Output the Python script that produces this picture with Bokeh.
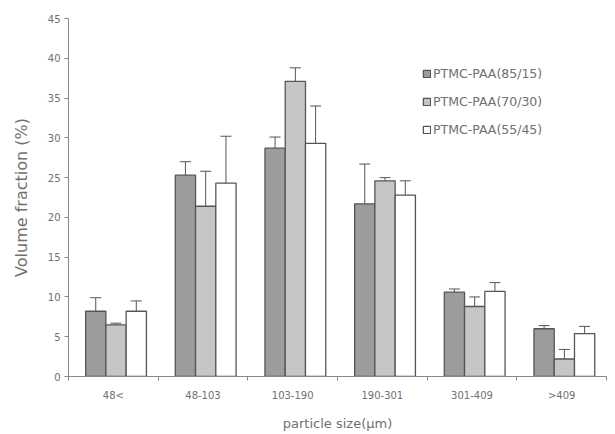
from bokeh.plotting import figure
from bokeh.models import (ColumnDataSource, FixedTicker, Whisker, TeeHead,
                          Legend, LegendItem, Range1d)
from bokeh.embed import file_html
from bokeh.resources import INLINE

categories = ["48<", "48-103", "103-190", "190-301", "301-409", ">409"]
series_names = ["PTMC-PAA(85/15)", "PTMC-PAA(70/30)", "PTMC-PAA(55/45)"]
v_85_15 = [8.2, 25.3, 28.7, 21.7, 10.6, 6.0]
e_85_15 = [1.7, 1.7, 1.4, 5.0, 0.4, 0.4]
v_70_30 = [6.5, 21.4, 37.1, 24.6, 8.8, 2.2]
e_70_30 = [0.2, 4.4, 1.7, 0.4, 1.2, 1.2]
v_55_45 = [8.2, 24.3, 29.3, 22.8, 10.7, 5.4]
e_55_45 = [1.3, 5.9, 4.7, 1.8, 1.1, 0.9]
y_ticks = [0, 5, 10, 15, 20, 25, 30, 35, 40, 45]

values = [v_85_15, v_70_30, v_55_45]
errors = [e_85_15, e_70_30, e_55_45]
fills = ["#9c9c9c", "#c6c6c6", "#ffffff"]

FONT = "DejaVu Sans"
TXT = "#707070"

p = figure(frame_width=538, frame_height=358, output_backend="svg",
           toolbar_location=None,
           x_range=Range1d(0, 6), y_range=Range1d(0, 45),
           min_border_left=68, min_border_right=1, min_border_top=18,
           min_border_bottom=54)
p.outline_line_color = None
p.xgrid.visible = False
p.ygrid.visible = False
p.background_fill_color = "white"

bw = 0.226
offsets = [-bw + 0.03, 0.03, bw + 0.03]
items = []
for k in range(3):
    xs = [i + 0.5 + offsets[k] for i in range(len(categories))]
    src = ColumnDataSource(dict(x=xs, top=values[k],
                                upper=[v + e for v, e in zip(values[k], errors[k])],
                                lower=[v - e for v, e in zip(values[k], errors[k])]))
    r = p.vbar(x="x", top="top", width=bw, bottom=0, source=src,
               fill_color=fills[k], line_color="#555555", line_width=1.3)
    items.append(LegendItem(label=series_names[k], renderers=[r]))
    w = Whisker(base="x", upper="upper", lower="lower", source=src,
                line_color="#555555", line_width=1,
                upper_head=TeeHead(size=11, line_color="#555555", line_width=1),
                lower_head=TeeHead(size=11, line_color="#555555", line_width=1))
    p.add_layout(w)

legend = Legend(items=items, location=(354, 237), margin=0, padding=4,
                label_height=20, glyph_height=9, glyph_width=9, spacing=8,
                label_standoff=2, border_line_color=None,
                background_fill_alpha=0,
                label_text_font=FONT, label_text_font_size="12.5px",
                label_text_color=TXT)
p.add_layout(legend, "center")

xt = FixedTicker(ticks=[i + 0.5 for i in range(len(categories))],
                 minor_ticks=list(range(len(categories) + 1)))
p.xaxis.ticker = xt
p.xaxis.major_label_overrides = {i + 0.5: c for i, c in enumerate(categories)}
p.xaxis.major_tick_in = 0
p.xaxis.major_tick_out = 0
p.xaxis.minor_tick_in = 0
p.xaxis.minor_tick_out = 4
p.xaxis.minor_tick_line_color = "#888888"
p.xaxis.axis_label = "particle size(\u03bcm)"

p.yaxis.ticker = FixedTicker(ticks=y_ticks)
p.yaxis.minor_tick_line_color = None
p.yaxis.major_tick_in = 0
p.yaxis.major_tick_out = 4
p.yaxis.axis_label = "Volume fraction (%)"

for ax in (p.xaxis, p.yaxis):
    ax.axis_line_color = "#888888"
    ax.major_label_text_font = FONT
    ax.major_label_text_font_size = "10px"
    ax.major_label_text_color = TXT
    ax.axis_label_text_font = FONT
    ax.axis_label_text_font_style = "normal"
    ax.axis_label_text_color = TXT
p.xaxis.major_tick_line_color = None
p.yaxis.major_tick_line_color = "#888888"
p.xaxis.axis_label_text_font_size = "13px"
p.yaxis.axis_label_text_font_size = "16px"
p.xaxis.major_label_standoff = 9
p.xaxis.axis_label_standoff = 12
p.yaxis.major_label_standoff = 4
p.yaxis.axis_label_standoff = 14

open("out.html", "w").write(file_html(p, INLINE))
